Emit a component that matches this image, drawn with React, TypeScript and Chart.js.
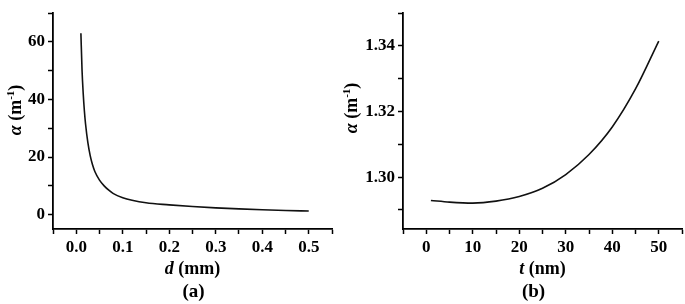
import React, { useEffect, useRef } from "react";
import { Chart, registerables } from "chart.js";

Chart.register(...registerables);

// Panel (a): alpha vs d
const aD = [0.01, 0.0125, 0.015, 0.0175, 0.02, 0.025, 0.03, 0.035, 0.04, 0.05, 0.06, 0.07, 0.08, 0.1, 0.12, 0.15, 0.2, 0.25, 0.3, 0.35, 0.4, 0.45, 0.5];
const aAlpha = [63, 50, 42, 36, 31.5, 25, 20.5, 17.3, 15, 12, 10, 8.5, 7.3, 5.9, 5.0, 4.1, 3.4, 2.8, 2.35, 2.0, 1.7, 1.45, 1.25];
const aXTicks = [-0.05, 0, 0.05, 0.1, 0.15, 0.2, 0.25, 0.3, 0.35, 0.4, 0.45, 0.5, 0.55];
const aXLabels = ["", "0.0", "", "0.1", "", "0.2", "", "0.3", "", "0.4", "", "0.5", ""];
const aYTicks = [0, 10, 20, 30, 40, 50, 60, 70];
const aYLabels = ["0", "", "20", "", "40", "", "60", ""];

// Panel (b): alpha vs t
const bT = [1, 5, 10, 15, 20, 25, 30, 35, 40, 45, 50];
const bAlpha = [1.2929, 1.2924, 1.2921, 1.2927, 1.2941, 1.2966, 1.3008, 1.3069, 1.3153, 1.3269, 1.3415];
const bXTicks = [-5, 0, 5, 10, 15, 20, 25, 30, 35, 40, 45, 50, 55];
const bXLabels = ["", "0", "", "10", "", "20", "", "30", "", "40", "", "50", ""];
const bYTicks = [1.29, 1.3, 1.31, 1.32, 1.33, 1.34, 1.35];
const bYLabels = ["", "1.30", "", "1.32", "", "1.34", ""];

const SERIF = "'Liberation Serif', 'Times New Roman', serif";

type PanelSpec = {
  xs: number[];
  ys: number[];
  xTicks: number[];
  xLabels: string[];
  yTicks: number[];
  yLabels: string[];
  xMin: number;
  xMax: number;
  yMin: number;
  yMax: number;
  yAxisWidth: number;
  padRight: number;
  xVar: string;
  xUnit: string;
  panel: string;
  yTitleX: number;
  yTitleY: number;
  panelDx: number;
};

function makeTitlePlugin(spec: PanelSpec) {
  return {
    id: "titles",
    afterDraw(chart: any) {
      const ctx = chart.ctx as CanvasRenderingContext2D;
      const ca = chart.chartArea;
      const cx = (ca.left + ca.right) / 2;
      ctx.save();
      ctx.fillStyle = "#000";
      ctx.textBaseline = "alphabetic";
      ctx.textAlign = "left";
      const fI = `italic bold 18px ${SERIF}`;
      const fB = `bold 18px ${SERIF}`;
      ctx.font = fI;
      const w1 = ctx.measureText(spec.xVar).width;
      ctx.font = fB;
      const rest = " (" + spec.xUnit + ")";
      const w2 = ctx.measureText(rest).width;
      const x0 = cx - (w1 + w2) / 2;
      const yT = ca.bottom + 45;
      ctx.font = fI;
      ctx.fillText(spec.xVar, x0, yT);
      ctx.font = fB;
      ctx.fillText(rest, x0 + w1, yT);
      ctx.font = `bold 19px ${SERIF}`;
      ctx.textAlign = "center";
      ctx.fillText("(" + spec.panel + ")", cx + spec.panelDx, ca.bottom + 68);
      ctx.translate(spec.yTitleX, spec.yTitleY);
      ctx.rotate(-Math.PI / 2);
      ctx.textAlign = "left";
      const parts: [string, string, number][] = [
        ["\u03b1", fI, 0],
        [" (m", fB, 0],
        ["-1", `bold 11px ${SERIF}`, -7],
        [")", fB, 0],
      ];
      let total = 0;
      for (const p of parts) {
        ctx.font = p[1];
        total += ctx.measureText(p[0]).width;
      }
      let px = -total / 2;
      for (const p of parts) {
        ctx.font = p[1];
        ctx.fillText(p[0], px, 6 + p[2]);
        px += ctx.measureText(p[0]).width;
      }
      ctx.restore();
    },
  };
}

function Panel({ spec, left, width }: { spec: PanelSpec; left: number; width: number }) {
  const ref = useRef<HTMLCanvasElement>(null);
  useEffect(() => {
    if (!ref.current) return;
    const tickFont = { family: SERIF, size: 17, weight: "bold" as const };
    const chart = new Chart(ref.current, {
      type: "line",
      data: {
        datasets: [
          {
            data: spec.xs.map((x, i) => ({ x, y: spec.ys[i] })),
            borderColor: "#111",
            borderWidth: 1.6,
            pointRadius: 0,
            fill: false,
            cubicInterpolationMode: "monotone",
          },
        ],
      },
      options: {
        animation: false,
        responsive: false,
        maintainAspectRatio: false,
        layout: { padding: { top: 5, right: spec.padRight, left: 0, bottom: 0 } },
        plugins: { legend: { display: false }, tooltip: { enabled: false } },
        scales: {
          x: {
            type: "linear",
            min: spec.xMin,
            max: spec.xMax,
            afterBuildTicks: (s: any) => {
              s.ticks = spec.xTicks.map((v) => ({ value: v }));
            },
            afterFit: (s: any) => {
              s.height = 75;
            },
            grid: { drawOnChartArea: false, drawTicks: true, tickLength: 5, tickColor: "#000", tickWidth: 1.5 },
            border: { display: true, color: "#000", width: 1.8 },
            ticks: {
              autoSkip: false,
              maxRotation: 0,
              padding: 3,
              color: "#000",
              font: tickFont,
              callback: (_v: any, i: number) => spec.xLabels[i] ?? "",
            },
          },
          y: {
            type: "linear",
            min: spec.yMin,
            max: spec.yMax,
            afterBuildTicks: (s: any) => {
              s.ticks = spec.yTicks.map((v) => ({ value: v }));
            },
            afterFit: (s: any) => {
              s.width = spec.yAxisWidth;
            },
            grid: { drawOnChartArea: false, drawTicks: true, tickLength: 5, tickColor: "#000", tickWidth: 1.5 },
            border: { display: true, color: "#000", width: 1.8 },
            ticks: {
              autoSkip: false,
              padding: 3,
              color: "#000",
              font: tickFont,
              callback: (_v: any, i: number) => spec.yLabels[i] ?? "",
            },
          },
        },
      },
      plugins: [makeTitlePlugin(spec)],
    } as any);
    return () => chart.destroy();
  }, [spec]);
  return (
    <canvas
      ref={ref}
      width={width}
      height={304}
      style={{ position: "absolute", left, top: 0, width, height: 304 }}
    />
  );
}

const specA: PanelSpec = {
  xs: aD,
  ys: aAlpha,
  xTicks: aXTicks,
  xLabels: aXLabels,
  yTicks: aYTicks,
  yLabels: aYLabels,
  xMin: -0.05,
  xMax: 0.55,
  yMin: -5,
  yMax: 70,
  yAxisWidth: 53,
  padRight: 8,
  xVar: "d",
  xUnit: "mm",
  panel: "a",
  yTitleX: 15,
  yTitleY: 110,
  panelDx: 1,
};

const specB: PanelSpec = {
  xs: bT,
  ys: bAlpha,
  xTicks: bXTicks,
  xLabels: bXLabels,
  yTicks: bYTicks,
  yLabels: bYLabels,
  xMin: -5,
  xMax: 55,
  yMin: 1.2842,
  yMax: 1.35,
  yAxisWidth: 63,
  padRight: 3,
  xVar: "t",
  xUnit: "nm",
  panel: "b",
  yTitleX: 11,
  yTitleY: 108,
  panelDx: -9,
};

export default function App() {
  return (
    <div style={{ position: "fixed", left: 0, top: 0, width: 685, height: 304, background: "#fff" }}>
      <Panel spec={specA} left={0} width={340} />
      <Panel spec={specB} left={340} width={345} />
    </div>
  );
}
